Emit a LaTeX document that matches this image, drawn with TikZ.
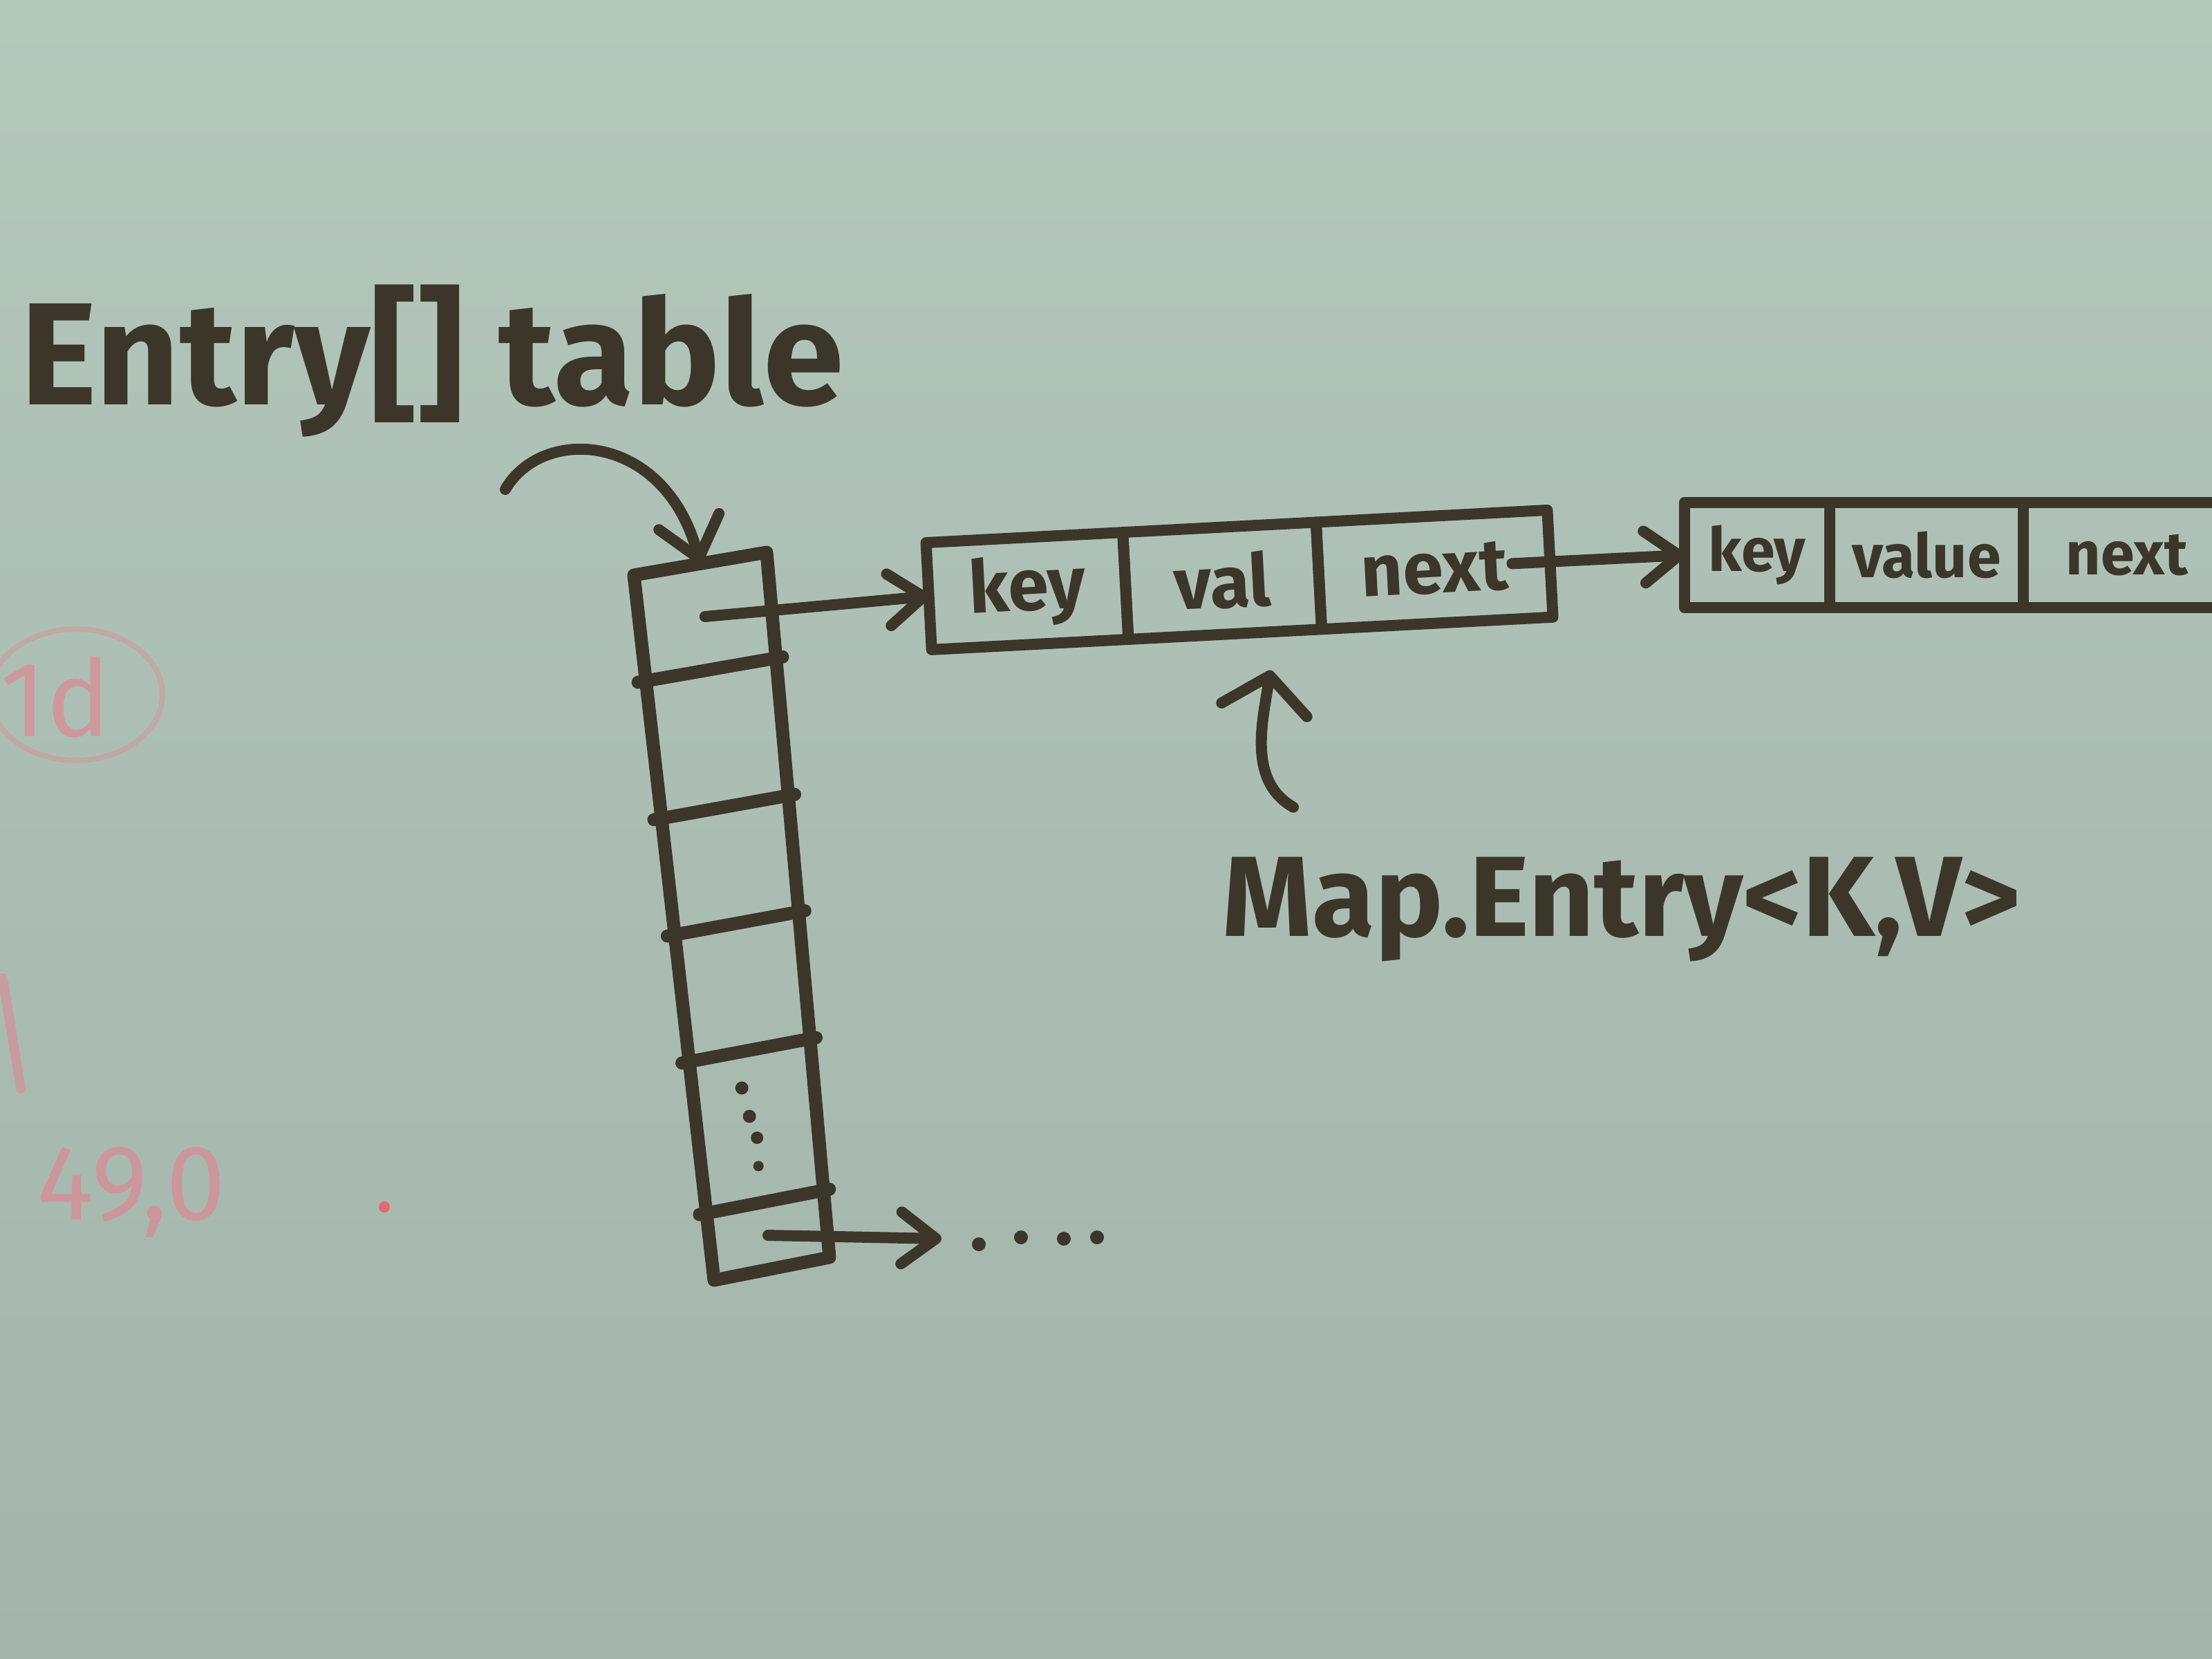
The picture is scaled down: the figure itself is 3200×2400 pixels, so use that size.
\documentclass[tikz,border=0pt]{standalone}
\usepackage{fontspec}
\setmainfont{Fira Sans}
\usetikzlibrary{arrows.meta,calc}
\definecolor{boardtop}{RGB}{180,199,187}
\definecolor{boardmid}{RGB}{194,211,202}
\definecolor{boardbot}{RGB}{163,180,171}
\definecolor{ink}{RGB}{60,54,42}
\definecolor{ghost}{RGB}{228,128,142}
\begin{document}
\begin{tikzpicture}[x=0.1mm,y=-0.1mm,
  inkline/.style={draw=ink, line width=1.9mm, line cap=round, line join=round},
  arr/.style={draw=ink, line width=1.6mm, line cap=round, line join=round,
    -{Straight Barb[length=5mm,width=7.5mm,line cap=round,line join=round]}},
  cellbox/.style={draw=ink, line width=1.6mm, line join=round, minimum height=15.5mm,
    inner sep=0pt, outer sep=0pt, text=ink, font=\bfseries\fontsize{30}{30}\selectfont},
  cellboxb/.style={cellbox, minimum height=15.3mm, font=\bfseries\fontsize{25}{25}\selectfont},
  biglabel/.style={text=ink, inner sep=0pt, font=\bfseries\fontsize{60}{60}\selectfont},
  midlabel/.style={text=ink, inner sep=0pt, font=\bfseries\fontsize{47}{47}\selectfont},
  ghosttext/.style={text=ghost, opacity=0.6, inner sep=0pt, font=\fontsize{44}{44}\selectfont},
  dot/.style={fill=ink, draw=none}
]
\useasboundingbox (0,0) rectangle (3200,2400);
\shade[top color=boardtop, middle color=boardmid, bottom color=boardbot] (0,0) rectangle (3200,2400);
\clip (0,0) rectangle (3200,2400);

% faint ghost marks on the left
\node[ghosttext] (g1) at (80,1008) {1d};
\draw[ghost, opacity=0.35, line width=0.8mm] (110,1005) ellipse [x radius=125, y radius=95];
\draw[ghost, opacity=0.5, line width=1.4mm, line cap=round] (4,1415) -- (30,1575);
\node[ghosttext] (g2) at (190,1725) {49,0};
\fill[ghost!80!red] (556,1746) circle (8);

% labels
\node[biglabel] (title) at (625,522) {Entry[] table};
\node[midlabel] (me) at (2346,1316) {Map.Entry<K,V>};

% table column
\coordinate (TL) at (917,832);
\coordinate (TR) at (1109,799);
\coordinate (BL) at (1033,1852);
\coordinate (BR) at (1200,1819);
\draw[inkline] (TL) -- (TR) -- (BR) -- (BL) -- cycle;
\foreach \t/\n in {0.150/1, 0.345/2, 0.510/3, 0.690/4, 0.905/5} {
  \coordinate (D\n L) at ($(TL)!\t!(BL)$);
  \coordinate (D\n R) at ($(TR)!\t!(BR)$);
  \draw[inkline] ($(D\n L)!-0.06!(D\n R)$) -- ($(D\n L)!1.05!(D\n R)$);
}
\coordinate (top) at ($(TL)!0.5!(TR)$);
\coordinate (c1) at ($(TL)!0.5!(D1R)$);
\coordinate (c5) at ($(D4L)!0.5!(D5R)$);
\coordinate (c6) at ($(D5L)!0.5!(BR)$);
\foreach \dx/\dy/\r in {-21/-55/9.5, -10/-14/9.5, 1/17/9, 3/58/7.5} {
  \fill[dot] ($(c5)+(\dx,\dy)$) circle (\r);
}

% entries
\node[cellbox, rotate=3, minimum width=28.5mm] (k1) at (1486,855) {key};
\node[cellbox, rotate=3, minimum width=28mm, anchor=west] (v1) at (k1.east) {val};
\node[cellbox, rotate=3, minimum width=33.5mm, anchor=west] (n1) at (v1.east) {next};

\node[cellboxb, minimum width=21mm] (k2) at (2542,803) {key};
\node[cellboxb, minimum width=28mm, anchor=west] (v2) at (k2.east) {value};
\node[cellboxb, minimum width=30mm, anchor=west] (n2) at (v2.east) {next};

% connectors
\coordinate (tail) at (731,708);
\draw[arr, -{Straight Barb[length=5.5mm,width=9mm,line cap=round,line join=round]}]
  (tail) .. controls (785,615) and (962,625) .. (top);
\draw[arr] (c1) -- (k1.west);
\draw[arr] ($(n1.east)+(-55,0)$) -- (k2.west);
\coordinate (more) at (1362,1792);
\draw[arr] (c6) -- (more);
\foreach \x/\y in {1416/1800, 1477/1790, 1539/1792, 1587/1790} {
  \fill[dot] (\x,\y) circle (10);
}
\coordinate (metail) at ($(me.north west)+(103,-72)$);
\coordinate (metip) at ($(v1.south)+(66,52)$);
\draw[arr, -{Straight Barb[length=5mm,width=12.5mm,line cap=round,line join=round]}]
  (metail) .. controls (1805,1130) and (1826,1045) .. (metip);
\end{tikzpicture}
\end{document}
